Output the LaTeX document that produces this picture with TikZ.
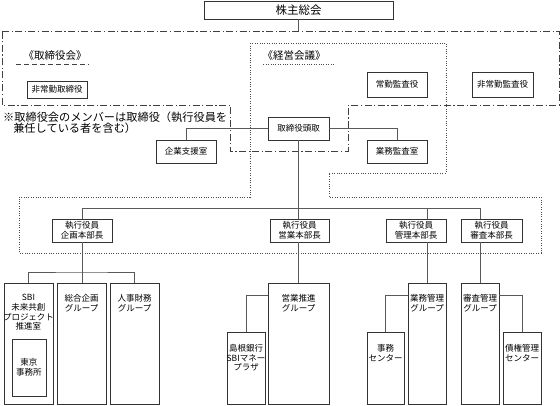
\documentclass[tikz,border=0pt]{standalone}
\usepackage{fontspec}
\setmainfont{Noto Sans CJK JP}
\newcommand\mycbox[6]{\pgfmathsetmacro\bw{#4-#2}\pgfmathsetmacro\bh{#5-#3}\node[boxst, minimum width=\bw pt, minimum height=\bh pt] (#1) at (#2,#3) {#6};}
\newcommand\mytbox[7]{\pgfmathsetmacro\bw{#4-#2}\pgfmathsetmacro\bh{#5-#3}\node[boxst, minimum width=\bw pt, minimum height=\bh pt] (#1) at (#2,#3) {};\node[txt] (#1t) at ([yshift=-#7pt]#1.north) {#6};}
\tikzset{
 boxst/.style={draw=black!80, line width=1pt, fill=white, inner sep=0pt, outer sep=0pt, anchor=north west, align=center, font=\fontsize{8.5}{9.8}\selectfont},
 txt/.style={inner sep=0pt, align=center, font=\fontsize{8.5}{9.8}\selectfont, anchor=north},
 conn/.style={draw=black!65, line width=0.8pt},
 dashdotregion/.style={draw=black!75, line width=0.9pt, dash pattern=on 7pt off 2.5pt on 1.2pt off 2.5pt},
 dotregion/.style={draw=black!70, line width=0.9pt, dash pattern=on 1pt off 1.4pt},
 heading/.style={inner sep=0pt, font=\fontsize{10.5}{12}\selectfont},
}
\begin{document}
\begin{tikzpicture}[x=1pt,y=-1pt]
\useasboundingbox (0,0) rectangle (560,405);
% regions
\draw[dashdotregion] (2,31) -- (559,31) -- (559,105) -- (348,105) -- (348,151) -- (230,151) -- (230,105) -- (2,105) -- cycle;
\draw[dotregion] (250,43) -- (446,43) -- (446,173) -- (329,173) -- (329,197) -- (541,197) -- (541,253) -- (19,253) -- (19,197) -- (250,197) -- cycle;
% headings
\node[heading] (torikai) at (55,56) {《取締役会》};
\draw[draw=black!75, line width=0.9pt, dash pattern=on 5pt off 3pt] ([xshift=-7pt,yshift=-3.5pt]torikai.south west) -- ([xshift=2pt,yshift=-3.5pt]torikai.south east);
\node[heading] (keiei) at (294,56) {《経営会議》};
\draw[dotregion] ([xshift=1pt,yshift=-3.5pt]keiei.south west) -- ([xshift=8pt,yshift=-3.5pt]keiei.south east);
\node[anchor=north west, align=left, inner sep=0pt, font=\fontsize{11.2}{11.5}\selectfont] (note) at (3,111.5) {※取締役会のメンバーは取締役（執行役員を\\\hspace*{0.9em}兼任している者を含む）};
% boxes
\node[boxst, minimum width=189pt, minimum height=18pt, font=\fontsize{11.5}{13}\selectfont] (kabu) at (204,1) {株主総会};
\mycbox{hjtori}{27}{81}{87}{98}{非常勤取締役}
\mycbox{jkansa}{367}{72}{427}{97}{常勤監査役}
\mycbox{hjkansa}{472}{72}{533}{97}{非常勤監査役}
\mycbox{toudori}{268}{117}{329}{140}{取締役頭取}
\mycbox{kigyo}{156}{140}{216}{163}{企業支援室}
\mycbox{gkansa}{367}{140}{427}{163}{業務監査室}
\mycbox{exa}{52}{219}{112}{242}{執行役員\\企画本部長}
\mycbox{exb}{270}{219}{329}{242}{執行役員\\営業本部長}
\mycbox{exc}{386}{219}{446}{242}{執行役員\\管理本部長}
\mycbox{exd}{461}{219}{522}{242}{執行役員\\審査本部長}
\mytbox{sbi}{4}{283}{53}{404}{SBI\\未来共創\\プロジェクト\\推進室}{11}
\mycbox{tokyo}{12}{339}{46}{396}{東京\\事務所}
\mytbox{sogo}{57}{283}{106}{404}{総合企画\\グループ}{11}
\mytbox{jinji}{110}{283}{159}{404}{人事財務\\グループ}{11}
\mytbox{shimane}{227}{332}{265}{404}{島根銀行\\SBIマネー\\プラザ}{12}
\mytbox{eigyo}{268}{283}{329}{404}{営業推進\\グループ}{11}
\mytbox{jimu}{367}{332}{404}{404}{事務\\センター}{12}
\mytbox{gkanri}{408}{283}{446}{404}{業務管理\\グループ}{11}
\mytbox{shinsa}{461}{283}{499}{404}{審査管理\\グループ}{11}
\mytbox{saiken}{503}{332}{541}{404}{債権管理\\センター}{12}
% connectors
\coordinate (top) at (298,31);
\draw[conn] (kabu.south -| top) -- (top);
\draw[conn] (toudori.west) -| (kigyo.north);
\draw[conn] (toudori.east) -| (gkansa.north);
\coordinate (busL) at (82,208);
\coordinate (busR) at (480,208);
\draw[conn] (busL) -- (busR);
\draw[conn] (toudori.south) -- (toudori.south |- busL);
\draw[conn] (busL) -- (exa.north -| busL);
\draw[conn] (toudori.south |- busL) -- (toudori.south |- exb.north);
\draw[conn] (gkanri.north |- busL) -- (gkanri.north |- exc.north);
\draw[conn] (shinsa.north |- busL) -- (shinsa.north |- exd.north);
% lower groups
\coordinate (kbus) at (82,272);
\draw[conn] (exa.south -| busL) -- (sogo.north -| busL);
\draw[conn] (sbi.north) |- (kbus) -| (jinji.north);
\draw[conn] (toudori.south |- exb.south) -- (toudori.south |- eigyo.north);
\draw[conn] ([yshift=-12pt]eigyo.north west) -| (shimane.north);
\draw[conn] (gkanri.north |- exc.south) -- (gkanri.north);
\draw[conn] ([yshift=-12pt]gkanri.north west) -| (jimu.north);
\draw[conn] (shinsa.north |- exd.south) -- (shinsa.north);
\draw[conn] ([yshift=-12pt]shinsa.north east) -| (saiken.north);
\end{tikzpicture}
\end{document}
